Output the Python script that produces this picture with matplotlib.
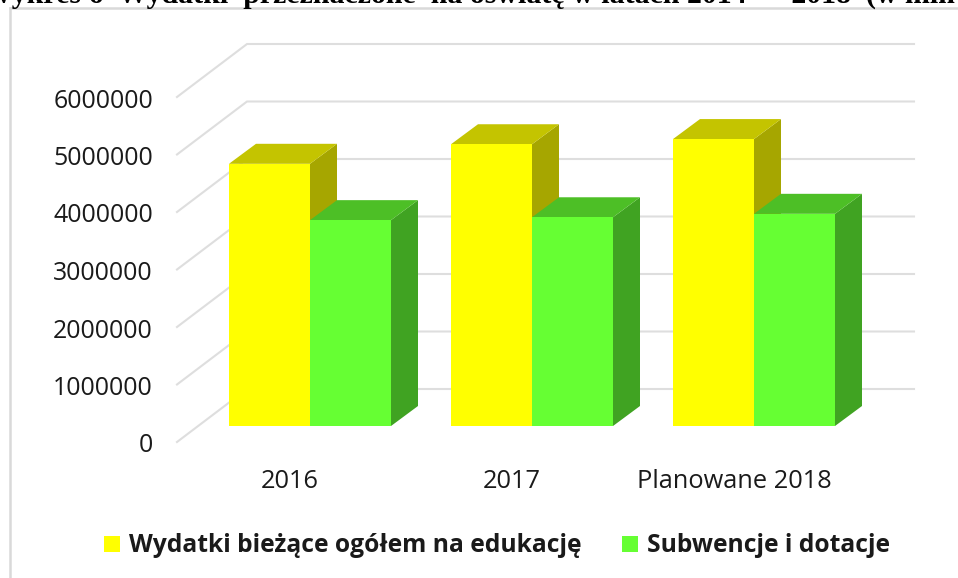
import matplotlib
matplotlib.use("Agg")
import matplotlib.pyplot as plt
from matplotlib.patches import Polygon, Rectangle

years = ["2016", "2017", "Planowane 2018"]
wydatki = [4560000, 4900000, 4990000]
subwencje = [3580000, 3630000, 3690000]
ticks = [0, 1000000, 2000000, 3000000, 4000000, 5000000, 6000000]
legend_labels = ["Wydatki bieżące ogółem na edukację", "Subwencje i dotacje"]
title = "Wykres 6  Wydatki  przeznaczone  na oświatę w latach 2014  –  2018  (w mln"

W, H = 958, 578
PX_X = 222.0
PX_Y = 57.5 / 1e6
fig = plt.figure(figsize=(W / 100, H / 100), dpi=100, facecolor="white")
ax = fig.add_axes([0, 0, 1, 1])
ax.set_xlim((0 - 310) / PX_X, (W - 310) / PX_X)
ax.set_ylim(-(H - 426) / PX_Y, 426 / PX_Y)
ax.axis("off")

def dx(p): return p / PX_X
def dy(p): return p / PX_Y

font = "Open Sans"
GRID = "#dedede"
FRAME = "#d9d9d9"

# outer frame
ax.plot([dx(10 - 310), dx(10 - 310)], [dy(426 - 8), dy(426 - 578)], color=FRAME, lw=1.8, zorder=1)
ax.plot([dx(10 - 310), dx(W - 310)], [dy(426 - 8), dy(426 - 8)], color=FRAME, lw=1.8, zorder=1)

# wall gridlines and floor diagonals
for t in ticks:
    x0, y0 = dx(177 - 310), t - dy(16)
    x1, y1 = dx(247 - 310), t + dy(37)
    x2 = dx(914 - 310)
    ax.plot([x0, x1, x2], [y0, y1, y1], color=GRID, lw=1.5, zorder=2, solid_joinstyle="miter")
    ax.text(dx(153 - 310), t - dy(20), f"{t}", ha="right", va="center", fontsize=17.9,
            family=font, color="#1a1a1a", zorder=6)

bw = 81 / PX_X
ddx, ddy = dx(27), dy(20)

def bar3d(xl, v, front, top, side):
    xr = xl + bw
    ax.add_patch(Polygon([(xr, 0), (xr + ddx, ddy), (xr + ddx, v + ddy), (xr, v)], color=side, lw=0, zorder=3))
    ax.add_patch(Polygon([(xl, v), (xl + ddx, v + ddy), (xr + ddx, v + ddy), (xr, v)], color=top, lw=0, zorder=3))
    ax.bar(xl, v, width=bw, align="edge", color=front, lw=0, zorder=4)

for i, (a, b) in enumerate(zip(wydatki, subwencje)):
    bar3d(i - bw, a, "#ffff00", "#c4c400", "#a6a600")
    bar3d(i, b, "#66ff33", "#4dbf26", "#40a322")
    ax.text(i - dx(20), -dy(55), years[i], ha="center", va="center", fontsize=18.3,
            family=font, color="#1a1a1a", zorder=6)

# legend
for xp, label, c in [(104, legend_labels[0], "#ffff00"), (622, legend_labels[1], "#66ff33")]:
    ax.add_patch(Rectangle((dx(xp - 310), -dy(552 - 426)), dx(16), dy(16), color=c, lw=0, zorder=5))
    ax.text(dx(xp + 25 - 310), -dy(545 - 426), label, ha="left", va="center", fontsize=17.7,
            family=font, weight="bold", color="#1a1a1a", zorder=6)

# clipped caption at top
ax.text(dx(-17 - 310), dy(426 - 3), title, ha="left", va="baseline", fontsize=21.5,
        family="Liberation Serif", weight="bold", color="black", zorder=6)

fig.savefig("out.png", dpi=100)
